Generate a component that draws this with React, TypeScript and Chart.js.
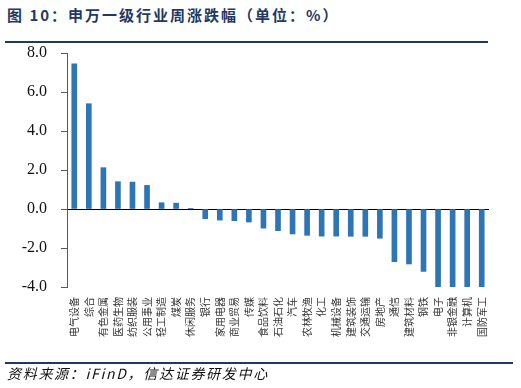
import React, { useEffect, useRef } from 'react';
import { Chart, registerables } from 'chart.js';

Chart.register(...registerables);

const categories = [
  '电气设备', '综合', '有色金属', '医药生物', '纺织服装', '公用事业', '轻工制造', '煤炭',
  '休闲服务', '银行', '家用电器', '商业贸易', '传媒', '食品饮料', '石油石化', '汽车',
  '农林牧渔', '化工', '机械设备', '建筑装饰', '交通运输', '房地产', '通信', '建筑材料',
  '钢铁', '电子', '非银金融', '计算机', '国防军工',
];

const values = [
  7.44, 5.40, 2.12, 1.40, 1.38, 1.21, 0.32, 0.30,
  0.01, -0.50, -0.57, -0.60, -0.67, -0.98, -1.11, -1.28,
  -1.35, -1.39, -1.39, -1.40, -1.40, -1.50, -2.70, -2.82,
  -3.20, -4.30, -4.50, -4.70, -5.00,
];

const yMin = -4;
const yMax = 8;
const yStep = 2;

const titleText = '图 10：申万一级行业周涨跌幅（单位：%）';
const sourceText = '资料来源：iFinD，信达证券研发中心';

export default function App() {
  const ref = useRef<HTMLCanvasElement>(null);

  useEffect(() => {
    const chart = new Chart(ref.current as HTMLCanvasElement, {
      type: 'bar',
      data: {
        labels: categories,
        datasets: [
          {
            data: values,
            backgroundColor: '#2E75B6',
            barThickness: 5,
          },
        ],
      },
      options: {
        animation: false,
        responsive: false,
        devicePixelRatio: 1,
        layout: { padding: { top: 53, right: 32, left: 0, bottom: 0 } },
        plugins: {
          legend: { display: false },
          tooltip: { enabled: false },
          title: { display: false },
        },
        scales: {
          x: {
            grid: { display: false, drawTicks: false },
            border: { display: false },
            ticks: {
              autoSkip: false,
              minRotation: 90,
              maxRotation: 90,
              padding: 10,
              color: '#333333',
              font: { family: '"Noto Sans CJK SC", sans-serif', size: 10 },
            },
            afterFit: (s: any) => {
              s.height = 101;
            },
          },
          y: {
            min: yMin,
            max: yMax,
            ticks: {
              stepSize: yStep,
              padding: 14,
              color: '#111111',
              font: { family: '"Liberation Serif", serif', size: 16 },
              callback: (v: any) => Number(v).toFixed(1),
            },
            grid: {
              color: (ctx: any) =>
                ctx.tick && ctx.tick.value === 0 ? '#000000' : 'rgba(0,0,0,0)',
              tickColor: '#595959',
              tickLength: 6,
              lineWidth: 1,
            },
            border: { display: true, color: '#595959', width: 1 },
            afterFit: (s: any) => {
              s.width = 67;
            },
          },
        },
      },
    });
    return () => chart.destroy();
  }, []);

  return (
    <div
      style={{
        position: 'absolute',
        left: 0,
        top: 0,
        width: 521,
        height: 388,
        background: '#ffffff',
        overflow: 'hidden',
      }}
    >
      <div
        style={{
          position: 'absolute',
          left: 7,
          top: 5,
          lineHeight: '20px',
          fontSize: 15,
          fontWeight: 'bold',
          letterSpacing: '2.0px',
          color: '#1F3864',
          fontFamily: '"Noto Sans CJK SC", sans-serif',
          whiteSpace: 'nowrap',
        }}
      >
        {titleText}
      </div>
      <div
        style={{
          position: 'absolute',
          left: 5,
          top: 41,
          width: 483,
          height: 2,
          background: '#1F3864',
        }}
      />
      <canvas
        ref={ref}
        width={521}
        height={388}
        style={{ position: 'absolute', left: 0, top: 0, width: 521, height: 388 }}
      />
      <div
        style={{
          position: 'absolute',
          left: 5,
          top: 362,
          width: 508,
          height: 2,
          background: '#1F3864',
        }}
      />
      <div
        style={{
          position: 'absolute',
          left: 7,
          top: 364,
          lineHeight: '18px',
          fontSize: 14,
          fontStyle: 'italic',
          letterSpacing: '1.7px',
          color: '#111111',
          fontFamily: '"Noto Sans CJK SC", sans-serif',
          whiteSpace: 'nowrap',
        }}
      >
        {sourceText}
      </div>
    </div>
  );
}
